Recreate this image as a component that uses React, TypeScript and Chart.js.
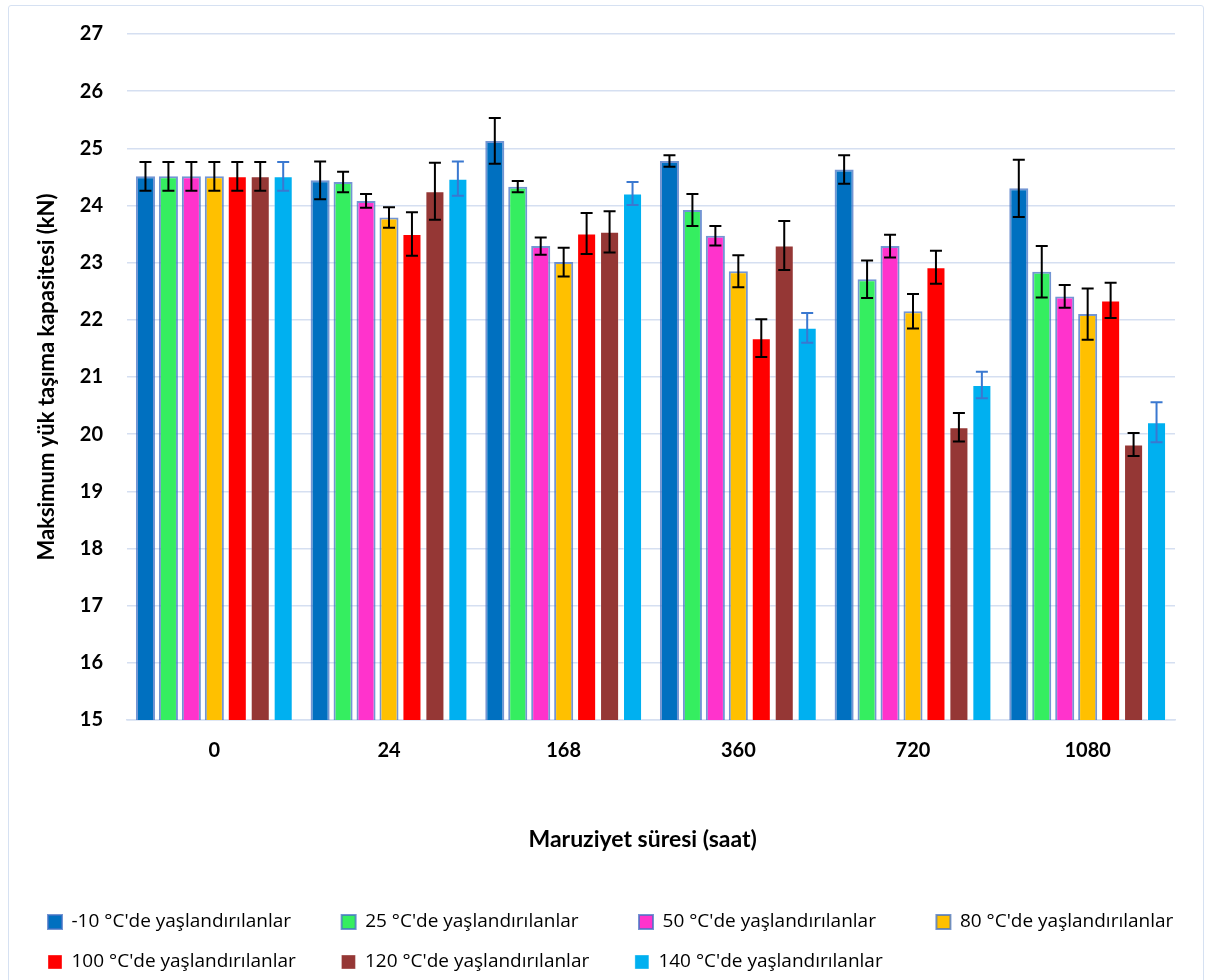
import React, { useEffect, useRef } from 'react';
import { Chart, registerables } from 'chart.js';

Chart.register(...registerables);

const categories = ['0', '24', '168', '360', '720', '1080'];

const seriesLabels = [
  "-10 °C'de yaşlandırılanlar",
  "25 °C'de yaşlandırılanlar",
  "50 °C'de yaşlandırılanlar",
  "80 °C'de yaşlandırılanlar",
  "100 °C'de yaşlandırılanlar",
  "120 °C'de yaşlandırılanlar",
  "140 °C'de yaşlandırılanlar",
];

const valuesM10 = [24.51, 24.44, 25.13, 24.78, 24.63, 24.30];
const valuesC25 = [24.51, 24.41, 24.33, 23.92, 22.71, 22.84];
const valuesC50 = [24.51, 24.08, 23.29, 23.47, 23.29, 22.41];
const valuesC80 = [24.51, 23.79, 23.01, 22.85, 22.15, 22.10];
const valuesC100 = [24.51, 23.50, 23.51, 21.68, 22.92, 22.34];
const valuesC120 = [24.51, 24.25, 23.54, 23.30, 20.12, 19.82];
const valuesC140 = [24.51, 24.47, 24.21, 21.86, 20.86, 20.21];

const errorsM10 = [0.25, 0.33, 0.40, 0.10, 0.25, 0.50];
const errorsC25 = [0.25, 0.18, 0.10, 0.28, 0.33, 0.45];
const errorsC50 = [0.25, 0.12, 0.15, 0.17, 0.20, 0.20];
const errorsC80 = [0.25, 0.18, 0.25, 0.28, 0.30, 0.45];
const errorsC100 = [0.25, 0.38, 0.36, 0.33, 0.29, 0.31];
const errorsC120 = [0.25, 0.50, 0.36, 0.43, 0.25, 0.20];
const errorsC140 = [0.25, 0.30, 0.20, 0.26, 0.23, 0.35];

const yTickMin = 15;
const yTickMax = 27;
const yTickStep = 1;

const seriesValues = [valuesM10, valuesC25, valuesC50, valuesC80, valuesC100, valuesC120, valuesC140];
const seriesErrors = [errorsM10, errorsC25, errorsC50, errorsC80, errorsC100, errorsC120, errorsC140];
const fillColors = ['#0070C0', '#35EE60', '#FF33CC', '#FFC000', '#FF0000', '#953735', '#00B0F0'];
const edgeColors = [
  'rgba(68,114,196,0.75)',
  'rgba(68,114,196,0.75)',
  'rgba(68,114,196,0.75)',
  'rgba(68,114,196,0.75)',
  'rgba(255,255,255,0.35)',
  'rgba(255,255,255,0.35)',
  'rgba(255,255,255,0.35)',
];
const edgeWidths = [2, 2, 2, 2, 1, 1, 1];
const errorColors = ['#000000', '#000000', '#000000', '#000000', '#000000', '#000000', '#3A78D0'];

const GRID = '#D5DFF1';
const LEGEND_FONT = "'Open Sans', sans-serif";
const LEGEND_SIZE = 19;
const LEGEND_TEXT_SLOT = 248.5;

const errorBarPlugin = {
  id: 'errorBars',
  afterDatasetsDraw(chart: any) {
    const ctx = chart.ctx;
    const yScale = chart.scales.y;
    chart.data.datasets.forEach((ds: any, i: number) => {
      const meta = chart.getDatasetMeta(i);
      if (meta.hidden) return;
      ctx.save();
      ctx.strokeStyle = ds.errorColor;
      ctx.lineWidth = 2;
      meta.data.forEach((el: any, j: number) => {
        const v = ds.data[j];
        const e = ds.errors[j];
        const yTop = yScale.getPixelForValue(v + e);
        const yBot = yScale.getPixelForValue(v - e);
        const x = el.x;
        ctx.beginPath();
        ctx.moveTo(x, yTop);
        ctx.lineTo(x, yBot);
        ctx.moveTo(x - 6, yTop);
        ctx.lineTo(x + 6, yTop);
        ctx.moveTo(x - 6, yBot);
        ctx.lineTo(x + 6, yBot);
        ctx.stroke();
      });
      ctx.restore();
    });
  },
};

export default function App() {
  const canvasRef = useRef<HTMLCanvasElement | null>(null);

  useEffect(() => {
    if (!canvasRef.current) return;
    const datasets = seriesLabels.map((label, i) => ({
      label,
      data: seriesValues[i],
      errors: seriesErrors[i],
      errorColor: errorColors[i],
      backgroundColor: fillColors[i],
      borderColor: edgeColors[i],
      borderWidth: edgeWidths[i],
      barPercentage: 0.83,
      categoryPercentage: 0.92,
    }));

    const defaultGen = (Chart as any).defaults.plugins.legend.labels.generateLabels;

    const chart = new Chart(canvasRef.current, {
      type: 'bar',
      data: { labels: categories, datasets: datasets as any },
      options: {
        responsive: false,
        animation: false,
        devicePixelRatio: 1,
        layout: { padding: { left: 18, right: 0, top: 28, bottom: 9.5 } },
        plugins: {
          tooltip: { enabled: false },
          legend: {
            position: 'bottom',
            align: 'start',
            labels: {
              boxWidth: 14,
              boxHeight: 14,
              padding: 21,
              color: '#000',
              font: { family: LEGEND_FONT, size: LEGEND_SIZE },
              generateLabels(ch: any) {
                const items = defaultGen(ch);
                const c = ch.ctx;
                c.save();
                c.font = `${LEGEND_SIZE}px ${LEGEND_FONT}`;
                items.forEach((it: any) => {
                  let t = it.text;
                  let guard = 0;
                  while (c.measureText(t).width < LEGEND_TEXT_SLOT && guard < 80) {
                    t += '\u00A0';
                    guard++;
                  }
                  it.text = t;
                });
                c.restore();
                return items;
              },
            },
          },
        },
        scales: {
          x: {
            grid: { display: false, drawTicks: false },
            border: { display: true, color: GRID, width: 1.5 },
            ticks: {
              padding: 19,
              color: '#000',
              font: { family: 'Lato', size: 20, weight: 'bold' },
            },
            title: {
              display: true,
              text: 'Maruziyet süresi (saat)\u00A0\u00A0\u00A0',
              color: '#000',
              font: { family: 'Lato', size: 23, weight: 'bold' },
              padding: { top: 0, bottom: 37.7 },
            },
            afterFit(scale: any) {
              scale.height = 171.5;
            },
          },
          y: {
            min: yTickMin,
            max: yTickMax,
            ticks: {
              stepSize: yTickStep,
              padding: 24,
              color: '#000',
              font: { family: 'Lato', size: 20, weight: 'bold' },
            },
            grid: { color: GRID, lineWidth: 1.5, drawTicks: false },
            border: { display: false },
            title: {
              display: true,
              text: 'Maksimum yük taşıma kapasitesi (kN)',
              color: '#000',
              font: { family: 'Lato', size: 22, weight: 'bold' },
              padding: { top: 7, bottom: 0 },
            },
            afterFit(scale: any) {
              scale.width = 100;
              scale.paddingTop = 0;
              scale.paddingBottom = 0;
            },
          },
          y2: {
            position: 'right',
            display: true,
            grid: { display: false, drawTicks: false },
            border: { display: false },
            ticks: { display: false },
            afterFit(scale: any) {
              scale.width = 74;
              scale.paddingTop = 0;
              scale.paddingBottom = 0;
            },
          },
        },
      } as any,
      plugins: [errorBarPlugin],
    });
    return () => chart.destroy();
  }, []);

  return (
    <div
      style={{
        position: 'fixed',
        left: 8,
        top: 5,
        width: 1194,
        height: 990,
        border: '1.5px solid #D6E1F2',
        borderRadius: 3,
        overflow: 'hidden',
        background: '#fff',
      }}
    >
      <canvas ref={canvasRef} width={1240} height={985} style={{ display: 'block' }} />
    </div>
  );
}
